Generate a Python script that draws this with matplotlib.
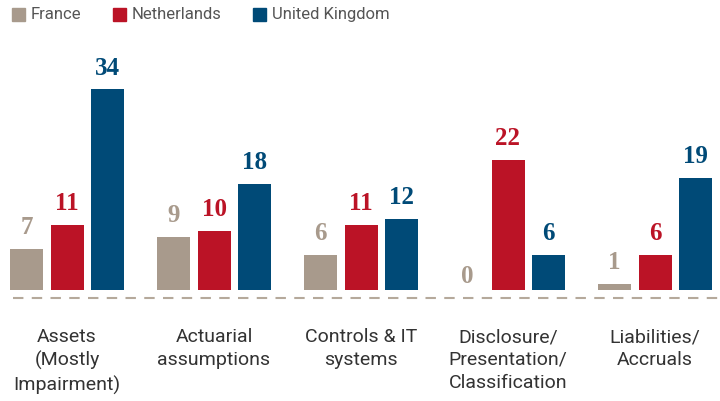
import matplotlib
matplotlib.use('Agg')
import numpy as np
import matplotlib.pyplot as plt
from matplotlib.patches import Rectangle

categories = ['Assets\n(Mostly\nImpairment)', 'Actuarial\nassumptions', 'Controls & IT\nsystems',
              'Disclosure/\nPresentation/\nClassification', 'Liabilities/\nAccruals']
series_names = ['France', 'Netherlands', 'United Kingdom']
france = [7, 9, 6, 0, 1]
netherlands = [11, 10, 11, 22, 6]
uk = [34, 18, 12, 6, 19]
colors = ['#a89a8c', '#bb1326', '#004a77']

W, H = 720, 401
fig = plt.figure(figsize=(W / 100, H / 100), dpi=100)
ax = fig.add_axes([0, 0, 1, 1])
ax.axis('off')

# pixel layout: group pitch 147px, bar pitch 40.5px, baseline at y=290px
ppx = 147.0
ppu = 5.9
ax.set_xlim(-67 / ppx, (W - 67) / ppx)
ax.set_ylim(-(H - 290) / ppu, 290 / ppu)

x = np.arange(len(categories))
pitch = 40.5 / ppx
width = 33 / ppx
for i, (name, vals) in enumerate(zip(series_names, [france, netherlands, uk])):
    pos = x + (i - 1) * pitch
    ax.bar(pos, vals, width, color=colors[i], label=name)
    for xp, v in zip(pos, vals):
        ax.annotate(str(v), (xp, v), xytext=(0, 7 if v > 0 else 1.5), textcoords='offset points',
                    ha='center', va='bottom', color=colors[i], fontsize=18,
                    fontweight='bold', family='Liberation Serif')

ax.plot([13 / ppx - 67 / ppx, 4.45], [-8 / ppu, -8 / ppu], color='#b5a99b', lw=1.5,
        dashes=(5, 4))

for xi, c in zip(x, categories):
    ax.text(xi, -(328 - 290) / ppu, c, ha='center', va='top', fontsize=14,
            color='#333333', family='Roboto', linespacing=1.35)

# legend drawn in figure pixel coordinates
leg_x = [12, 113, 253]
for lx, name, col in zip(leg_x, series_names, colors):
    fig.patches.append(Rectangle((lx / W, 1 - 21 / H), 13 / W, 13 / H, transform=fig.transFigure,
                                 color=col, figure=fig))
    fig.text((lx + 19) / W, 1 - 14.5 / H, name, ha='left', va='center', fontsize=12,
             color='#555555', family='Roboto')

fig.savefig('out.png', dpi=100)
